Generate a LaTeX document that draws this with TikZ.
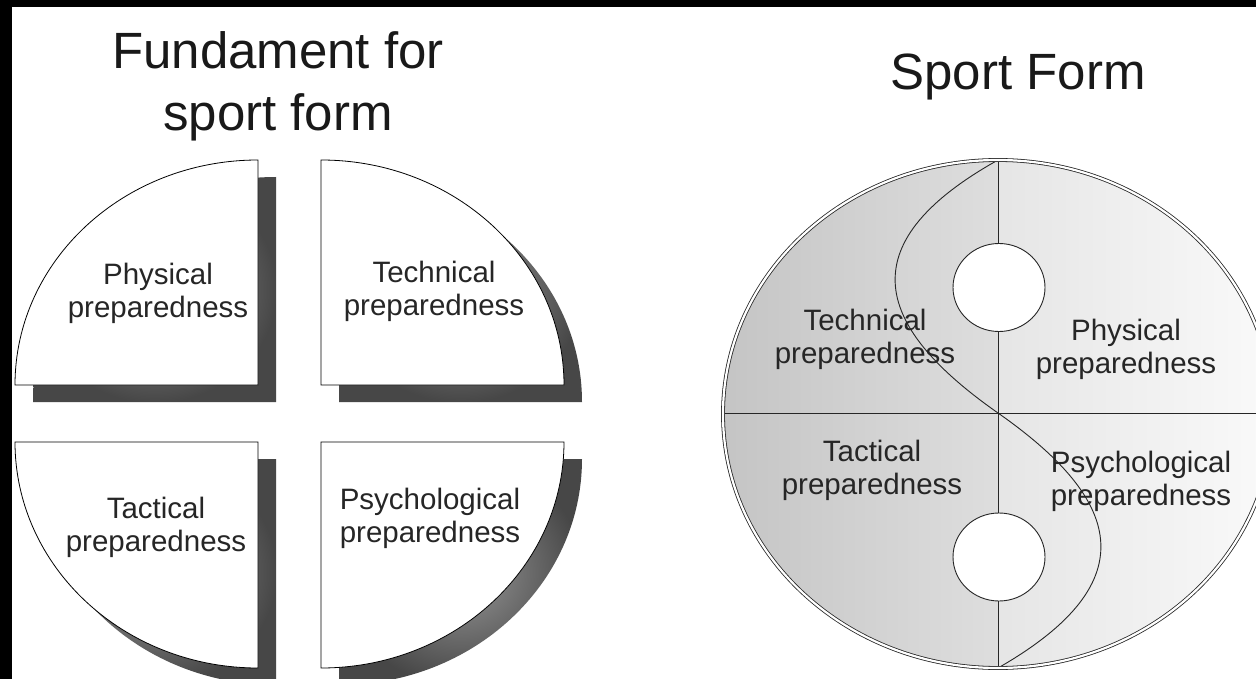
\documentclass[tikz,border=0pt]{standalone}
\usepackage{fontspec}
\setmainfont{Liberation Sans}
\begin{document}
\begin{tikzpicture}[x=1pt,y=-1pt,
  lab/.style={font=\fontsize{29.5}{33}\selectfont, align=center, inner sep=0pt, text=black!85},
  ttl/.style={font=\fontsize{51}{62}\selectfont, align=center, inner sep=0pt, text=black!90},
  quad/.style={fill=white, draw=black, line width=0.8pt},
  shad/.style={inner color=black!40, outer color=black!72},
  divline/.style={draw=black!85, line width=0.9pt},
  hole/.style={fill=white, draw=black!85, line width=0.9pt}]
\useasboundingbox (0,0) rectangle (1256,679);
\clip (0,0) rectangle (1256,679);
\fill[white] (0,0) rectangle (1256,679);
\fill[black] (0,0) rectangle (1256,7);
\fill[black] (0,0) rectangle (12,679);

% titles
\node[ttl] (t1) at (278,86) {Fundament for\\sport form};
\node[ttl, anchor=base] (t2) at (1018,90) {Sport Form};

% ---------- left: four quarters with shadows ----------
\shade[shad, shift={(18,17)}] (15,385) .. controls (15,260.7) and (123.8,160) .. (258,160) -- (258,385) -- cycle;
\shade[shad, shift={(18,17)}] (321,160) .. controls (455.2,160) and (564,260.7) .. (564,385) -- (321,385) -- cycle;
\shade[shad, shift={(18,17)}] (15,442) .. controls (15,566.8) and (123.8,668) .. (258,668) -- (258,442) -- cycle;
\shade[shad, shift={(18,17)}] (564,442) .. controls (564,566.8) and (455.2,668) .. (321,668) -- (321,442) -- cycle;

\path[quad] (15,385) .. controls (15,260.7) and (123.8,160) .. (258,160) -- (258,385) -- cycle;
\path[quad] (321,160) .. controls (455.2,160) and (564,260.7) .. (564,385) -- (321,385) -- cycle;
\path[quad] (15,442) .. controls (15,566.8) and (123.8,668) .. (258,668) -- (258,442) -- cycle;
\path[quad] (564,442) .. controls (564,566.8) and (455.2,668) .. (321,668) -- (321,442) -- cycle;

\node[lab] (lphys) at (158,293) {Physical\\preparedness};
\node[lab] (ltech) at (434,291) {Technical\\preparedness};
\node[lab] (ltact) at (156,527) {Tactical\\preparedness};
\node[lab] (lpsy) at (430,518) {Psychological\\preparedness};

% ---------- right: sport form ellipse ----------
\begin{scope}
  \clip (998,414) ellipse [x radius=275, y radius=254];
  \shade[left color=black!23, right color=black!13] (723,160) rectangle (998,668);
  \shade[left color=black!10, right color=black!2] (998,160) rectangle (1273,668);
\end{scope}
\coordinate (top) at (998,160);
\coordinate (bot) at (998,668);
\coordinate (mid) at (998,413);
\coordinate (lft) at (723,413);
\coordinate (rgt) at (1273,413);
\draw[divline] (top) -- (bot);
\draw[divline] (lft) -- (rgt);
\draw[divline] (top) .. controls (845,245.6) and (877.6,328.7) .. (mid)
                     .. controls (1118.4,497.3) and (1151,580.4) .. (bot);
\path[hole] (999,287.5) ellipse [x radius=46, y radius=44];
\path[hole] (999,557) ellipse [x radius=46, y radius=44];
\draw[draw=black!85, line width=0.8pt, double=white, double distance=2.2pt]
  (998,414) ellipse [x radius=275, y radius=254];

\node[lab] (rtech) at (865,339) {Technical\\preparedness};
\node[lab] (rphys) at (1126,349) {Physical\\preparedness};
\node[lab] (rtact) at (872,470) {Tactical\\preparedness};
\node[lab] (rpsy) at (1141,481) {Psychological\\preparedness};
\end{tikzpicture}
\end{document}
